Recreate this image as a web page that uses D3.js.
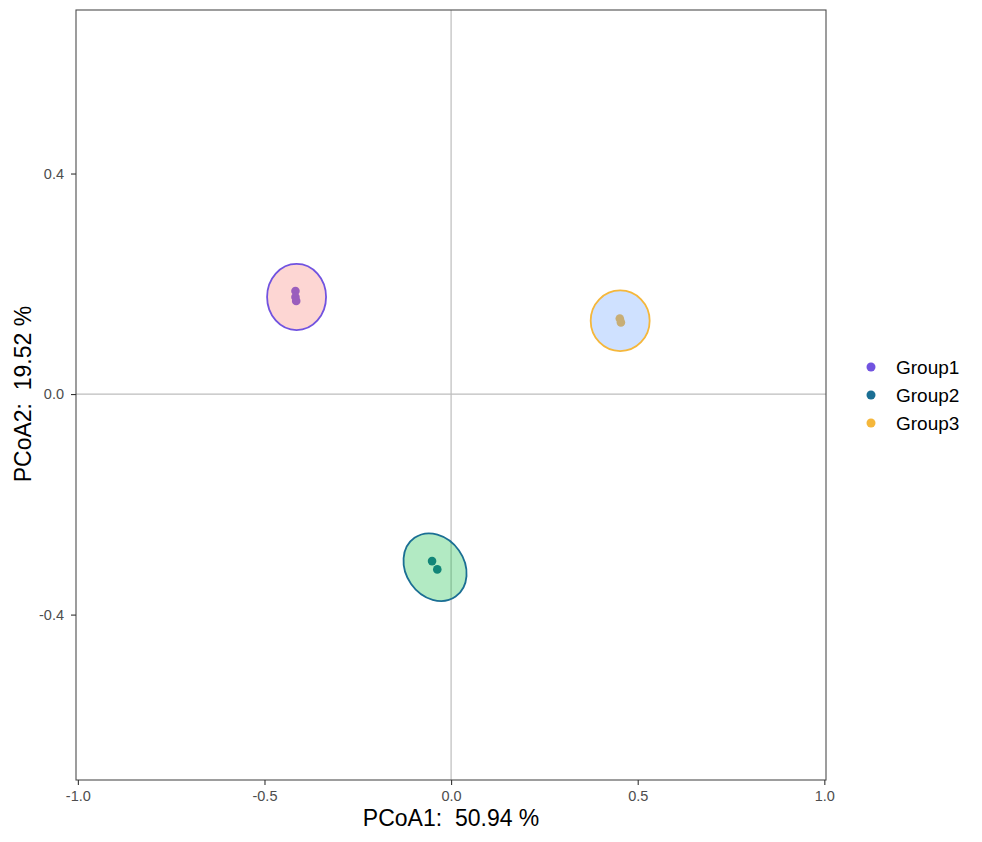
<!DOCTYPE html>
<html>
<head>
<meta charset="utf-8">
<script src="https://cdn.jsdelivr.net/npm/d3@7"></script>
<style>
  body { margin: 0; background: #fff; }
  text { font-family: "Liberation Sans", Arial, sans-serif; }
</style>
</head>
<body>
<svg class="chart"></svg>
<script>
var width = 982, height = 842;

var groups = ["Group1", "Group2", "Group3"];
var pointColors = ["#7153e0", "#1b6f94", "#f5b73b"];
var fillColors = ["#F8766D", "#00BA38", "#619CFF"];

// sample scores (PCoA1, PCoA2)
var samplesG1 = [[-0.417, 0.187], [-0.417, 0.176], [-0.415, 0.169]];
var samplesG2 = [[-0.051, -0.303], [-0.037, -0.318]];
var samplesG3 = [[0.452, 0.137], [0.455, 0.130]];
var samples = [samplesG1, samplesG2, samplesG3];

// confidence ellipses: centre x, centre y, half width, half height (data units), tilt (deg)
var ellipseCx = [-0.414, -0.043, 0.453];
var ellipseCy = [0.176, -0.314, 0.133];
var ellipseRx = [0.079, 0.096, 0.079];
var ellipseRy = [0.060, 0.053, 0.055];
var ellipseTilt = [0, 55, 0];

var xTicks = [-1.0, -0.5, 0.0, 0.5, 1.0];
var yTicks = [-0.4, 0.0, 0.4];

var margin = {left: 76, right: 156, top: 10, bottom: 62};

var svg = d3.select(".chart")
    .attr("width", width)
    .attr("height", height);

var x = d3.scaleLinear()
    .domain([-1.005, 1.0045])
    .range([margin.left, width - margin.right]);

var y = d3.scaleLinear()
    .domain([-0.7, 0.6966])
    .range([height - margin.bottom, margin.top]);

// plain hyphen minus like ggplot
var fmt = function(d) { return d3.format(".1f")(d).replace("\u2212", "-"); };

// zero lines
svg.append("line")
    .attr("x1", x(0)).attr("x2", x(0))
    .attr("y1", y.range()[0]).attr("y2", y.range()[1])
    .attr("stroke", "#bdbdbd").attr("stroke-width", 1.2);
svg.append("line")
    .attr("x1", x.range()[0]).attr("x2", x.range()[1])
    .attr("y1", y(0)).attr("y2", y(0))
    .attr("stroke", "#bdbdbd").attr("stroke-width", 1.2);

// points first, ellipse fill drawn over them
groups.forEach(function(g, i) {
    svg.selectAll(".pt" + i)
        .data(samples[i])
      .enter().append("circle")
        .attr("class", "pt" + i)
        .attr("cx", function(d) { return x(d[0]); })
        .attr("cy", function(d) { return y(d[1]); })
        .attr("r", 4.3)
        .attr("fill", pointColors[i]);
});

groups.forEach(function(g, i) {
    var cx = x(ellipseCx[i]), cy = y(ellipseCy[i]);
    svg.append("ellipse")
        .attr("cx", cx)
        .attr("cy", cy)
        .attr("rx", x(ellipseCx[i] + ellipseRx[i]) - cx)
        .attr("ry", cy - y(ellipseCy[i] + ellipseRy[i]))
        .attr("transform", "rotate(" + ellipseTilt[i] + "," + cx + "," + cy + ")")
        .attr("fill", fillColors[i])
        .attr("fill-opacity", 0.3)
        .attr("stroke", pointColors[i])
        .attr("stroke-width", 1.8);
});

// panel border
svg.append("rect")
    .attr("x", x.range()[0]).attr("y", y.range()[1])
    .attr("width", x.range()[1] - x.range()[0])
    .attr("height", y.range()[0] - y.range()[1])
    .attr("fill", "none")
    .attr("stroke", "#4d4d4d")
    .attr("stroke-width", 1.1);

// axes
var xAxis = svg.append("g")
    .attr("transform", "translate(0," + y.range()[0] + ")")
    .call(d3.axisBottom(x).tickValues(xTicks).tickFormat(fmt).tickSizeOuter(0).tickSize(5));
var yAxis = svg.append("g")
    .attr("transform", "translate(" + x.range()[0] + ",0)")
    .call(d3.axisLeft(y).tickValues(yTicks).tickFormat(fmt).tickSizeOuter(0).tickSize(5));

[xAxis, yAxis].forEach(function(a) {
    a.select(".domain").remove();
    a.selectAll(".tick line").attr("stroke", "#333").attr("stroke-width", 1.1);
    a.selectAll(".tick text")
        .attr("fill", "#4d4d4d")
        .style("font-size", "14.5px")
        .style("font-family", "'Liberation Sans', Arial, sans-serif");
});
xAxis.selectAll(".tick text").attr("dy", null).attr("y", 21);
yAxis.selectAll(".tick text").attr("x", -12);

// axis titles
svg.append("text")
    .attr("x", x(0))
    .attr("y", 826)
    .attr("text-anchor", "middle")
    .style("font-size", "23px")
    .style("white-space", "pre")
    .attr("fill", "#000")
    .text("PCoA1:  50.94 %");

svg.append("text")
    .attr("transform", "translate(31," + y(0) + ") rotate(-90)")
    .attr("text-anchor", "middle")
    .style("font-size", "23px")
    .style("white-space", "pre")
    .attr("fill", "#000")
    .text("PCoA2:  19.52 %");

// legend
var legend = svg.selectAll(".legend")
    .data(groups)
  .enter().append("g")
    .attr("class", "legend")
    .attr("transform", function(d, i) { return "translate(871," + (367 + i * 28) + ")"; });

legend.append("circle")
    .attr("r", 4.5)
    .attr("fill", function(d, i) { return pointColors[i]; });

legend.append("text")
    .attr("x", 25)
    .attr("dy", "0.36em")
    .style("font-size", "19px")
    .attr("fill", "#000")
    .text(function(d) { return d; });
</script>
</body>
</html>
